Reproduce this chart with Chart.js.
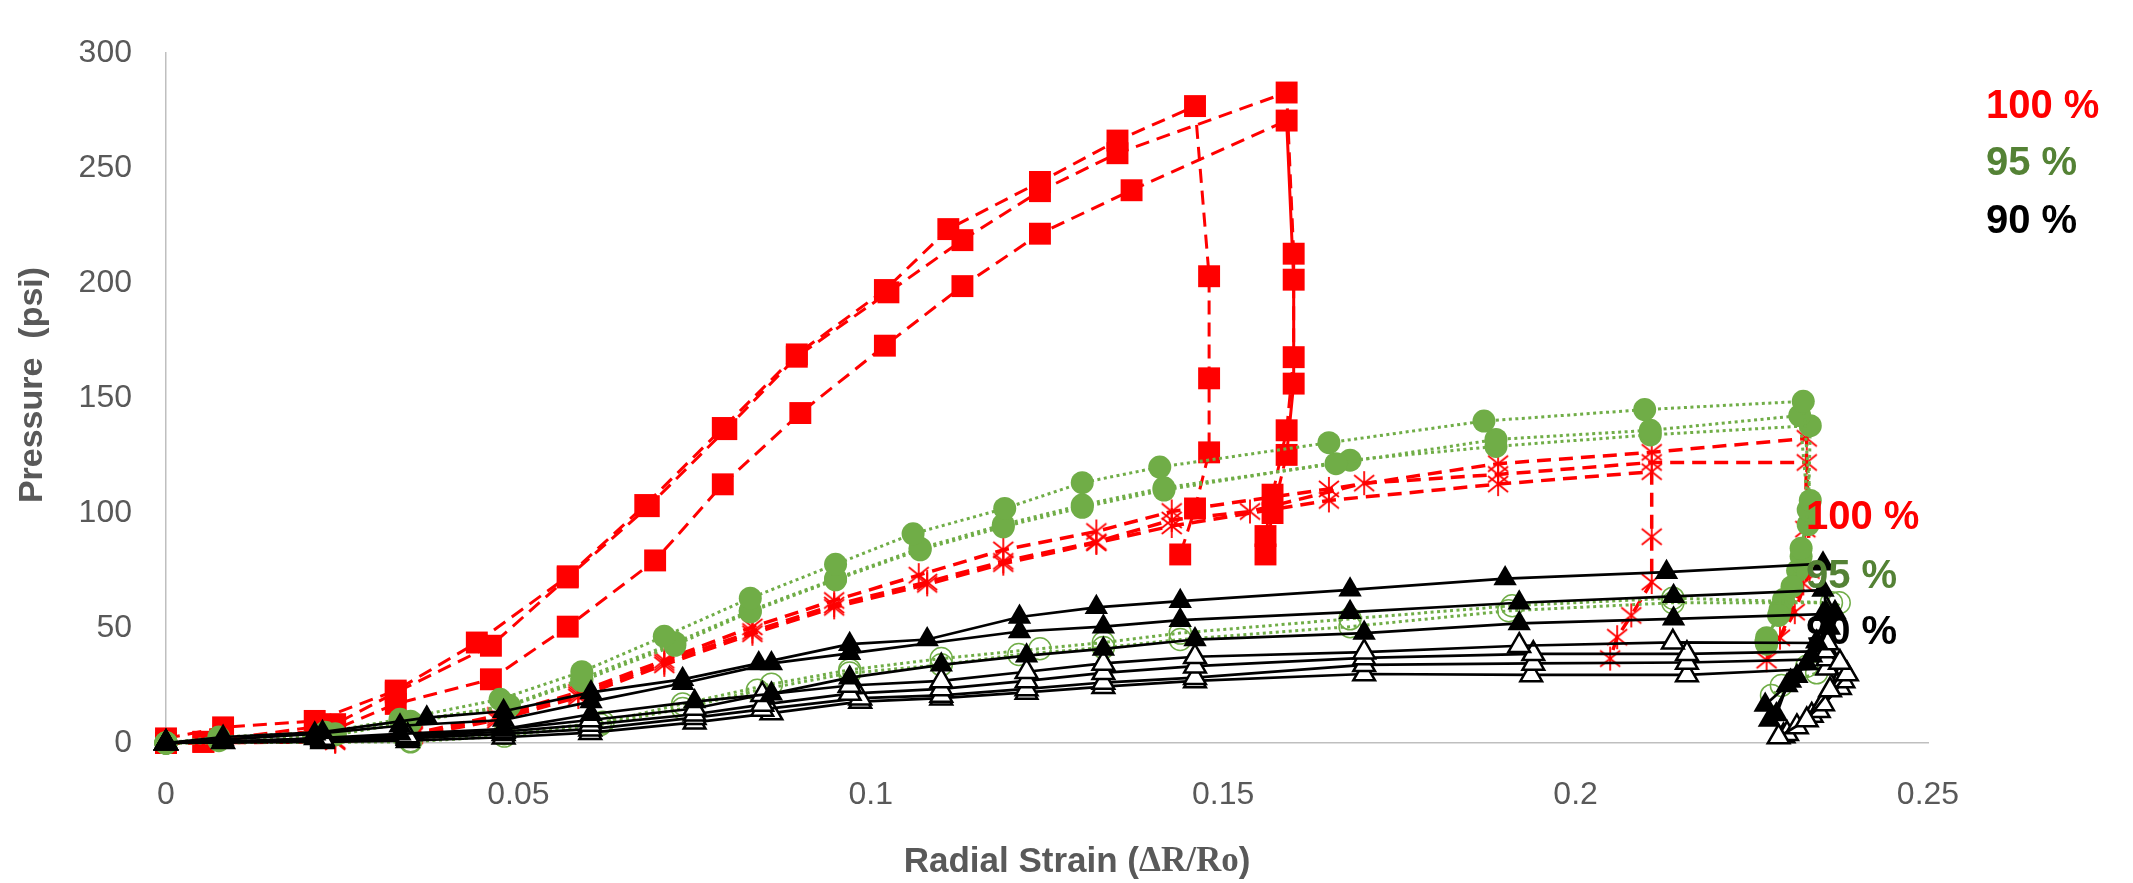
<!DOCTYPE html>
<html><head><meta charset="utf-8">
<script src="https://cdn.jsdelivr.net/npm/chart.js@4.4.1/dist/chart.umd.min.js"></script>
<style>html,body{margin:0;padding:0;background:#fff;}canvas{display:block;}</style>
</head><body>
<canvas id="c" width="2133" height="883"></canvas>
<script>
// ---------- axis ticks ----------
const xTicks = [0, 0.05, 0.1, 0.15, 0.2, 0.25];
const yTicks = [0, 50, 100, 150, 200, 250, 300];
const xTitle = ['Radial Strain (', 'ΔR/Ro', ')'];
const yTitle = 'Pressure  (psi)';
const labelTexts = ['100 %', '95 %', '90 %'];

// ---------- 100 % : red squares ----------
const sqA_x = [0, 0.0081, 0.0211, 0.0326, 0.0441, 0.057, 0.068, 0.079, 0.0895, 0.102, 0.111, 0.124, 0.135, 0.146, 0.148, 0.148, 0.148, 0.146, 0.1439];
const sqA_y = [2, 6.8, 9.6, 22.8, 43.7, 72.5, 103.5, 137, 169, 197, 223.5, 244, 262, 277, 203, 158.6, 126.4, 102, 82];
const sqB_x = [0, 0.0053, 0.024, 0.0326, 0.0461, 0.057, 0.0685, 0.0795, 0.0895, 0.1025, 0.113, 0.124, 0.135, 0.159, 0.160, 0.160, 0.159, 0.157, 0.156];
const sqB_y = [0, 0.5, 8.2, 22, 42.3, 72, 103, 136.5, 168, 196, 218.7, 240, 256.5, 282.9, 212.8, 167.8, 136, 108, 90];
const sqC_x = [0, 0.0053, 0.024, 0.0326, 0.0461, 0.057, 0.0694, 0.079, 0.090, 0.102, 0.113, 0.124, 0.137, 0.159, 0.160, 0.160, 0.159, 0.157, 0.156];
const sqC_y = [0, 0.5, 6, 17, 27.7, 50.6, 79.4, 112.5, 143.5, 172.8, 198.7, 221.5, 240.4, 270.7, 201.5, 156.3, 125.3, 100, 82];

// ---------- 100 % : red stars ----------
const stA_x = [0, 0.024, 0.035, 0.047, 0.0585, 0.0707, 0.0832, 0.0948, 0.1068, 0.1188, 0.132, 0.1427, 0.165, 0.189, 0.2108, 0.2328, 0.2326, 0.2323, 0.229];
const stA_y = [0, 1, 4, 12, 22, 36, 50.5, 62, 73, 84, 92, 100.7, 110.5, 121.5, 126.4, 132.5, 93, 69.4, 45.8];
const stB_x = [0, 0.024, 0.035, 0.047, 0.0585, 0.0707, 0.0832, 0.0948, 0.108, 0.1188, 0.132, 0.1427, 0.1538, 0.170, 0.189, 0.2108, 0.2328, 0.2332, 0.2311, 0.2271];
const stB_y = [0, 1, 3.5, 11, 21, 35, 48.5, 60, 70, 79, 87.5, 97, 100.7, 113, 116.8, 122, 122, 75, 56.9, 36];
const stC_x = [0, 0.024, 0.035, 0.047, 0.0585, 0.0707, 0.0832, 0.0948, 0.108, 0.1188, 0.132, 0.1427, 0.165, 0.189, 0.2108, 0.2108, 0.2108, 0.2079, 0.2059, 0.2049];
const stC_y = [0, 0.5, 3, 10, 20, 34, 47.5, 59, 69, 78, 87, 94.4, 105.5, 112.6, 118, 89.7, 70, 55.5, 46, 36.7];

// ---------- 95 % : green filled circles ----------
const gfA_x = [0, 0.0075, 0.0226, 0.0332, 0.0474, 0.059, 0.0707, 0.0829, 0.095, 0.106, 0.119, 0.130, 0.141, 0.165, 0.187, 0.2098, 0.2323, 0.2333, 0.232, 0.2307, 0.2288, 0.2271];
const gfA_y = [0, 2.6, 4.7, 10.3, 19, 31, 46.4, 63, 77.7, 91, 102, 113.2, 120, 130.6, 140, 145, 148.6, 105.5, 84.7, 68, 55.5, 45.8];
const gfB_x = [0, 0.0075, 0.024, 0.0347, 0.0487, 0.059, 0.0722, 0.0829, 0.095, 0.107, 0.1188, 0.130, 0.1416, 0.166, 0.1887, 0.2106, 0.2318, 0.233, 0.232, 0.2295, 0.2271];
const gfB_y = [0, 1.5, 4, 9.5, 16.4, 28, 43.6, 57.6, 71.5, 84.7, 95, 103.5, 111, 121.5, 132, 136, 142.4, 101.4, 81.2, 62.4, 43];
const gfC_x = [0, 0.0075, 0.024, 0.0347, 0.0487, 0.059, 0.0722, 0.0829, 0.095, 0.107, 0.1188, 0.130, 0.1416, 0.168, 0.1887, 0.2106, 0.2333, 0.233, 0.2315, 0.229, 0.227];
const gfC_y = [0, 1, 3.5, 9, 16, 27, 42.5, 57, 71, 84, 94, 102.5, 110, 123, 129, 134, 138, 95, 75, 58, 44];

// ---------- 95 % : green open circles ----------
const goA_x = [0, 0.0347, 0.048, 0.062, 0.0733, 0.0859, 0.097, 0.110, 0.124, 0.133, 0.1439, 0.168, 0.191, 0.2138, 0.2363, 0.2342, 0.2292];
const goA_y = [0, 1, 4, 9, 17, 25.6, 31.8, 36.7, 41, 43.7, 47.8, 54, 59.7, 63, 61, 30.5, 25];
const goB_x = [0, 0.0347, 0.048, 0.0616, 0.0733, 0.0839, 0.097, 0.110, 0.121, 0.133, 0.1439, 0.168, 0.1905, 0.2138, 0.2374, 0.2328, 0.2278];
const goB_y = [0, 0.5, 3, 8, 15, 22.9, 30.4, 34, 38.5, 41.5, 45, 50.6, 57.5, 61, 61, 33.4, 20.7];

// ---------- 90 % : black filled triangles ----------
const tfA_x = [0, 0.0081, 0.0222, 0.037, 0.0479, 0.0603, 0.0733, 0.0841, 0.097, 0.108, 0.1211, 0.132, 0.1439, 0.168, 0.190, 0.2129, 0.2351, 0.2355, 0.2342, 0.2314, 0.2269];
const tfA_y = [0, 2.6, 4.7, 11, 13.8, 22, 27.7, 34.6, 43, 45, 54.8, 59, 61.7, 66.6, 71.5, 74.3, 78, 57, 44, 29, 16.5];
const tfB_x = [0, 0.0081, 0.0211, 0.0332, 0.0479, 0.0603, 0.0733, 0.0859, 0.097, 0.1211, 0.133, 0.1439, 0.168, 0.192, 0.2139, 0.2351, 0.2368, 0.2328, 0.230, 0.2285];
const tfB_y = [0, 1.5, 4, 7.5, 10, 18, 26, 34.6, 39, 48.5, 50.6, 53.4, 56.9, 61, 63.8, 66.5, 56.9, 34.6, 25, 12.4];
const tfC_x = [0, 0.0081, 0.0211, 0.0332, 0.0479, 0.0603, 0.075, 0.0859, 0.097, 0.11, 0.1221, 0.133, 0.146, 0.170, 0.192, 0.2139, 0.2351, 0.236, 0.2335, 0.2305, 0.2275];
const tfC_y = [0, 0.5, 2, 4, 6, 12.5, 18, 21.4, 28.4, 34, 38, 40.9, 45, 47.8, 52, 54, 56, 50, 38, 27, 10];

// ---------- 90 % : black open triangles ----------
const toA_x = [0, 0.0081, 0.0222, 0.0343, 0.0479, 0.0602, 0.075, 0.0846, 0.097, 0.11, 0.1221, 0.133, 0.146, 0.170, 0.192, 0.2138, 0.2357, 0.2375, 0.2361, 0.2328, 0.2288];
const toA_y = [0, 0.5, 2, 3, 6, 10, 15, 21, 25, 27, 31, 34.6, 37.5, 39.5, 42.3, 43.8, 43.5, 35, 23, 10, 2.6];
const toB_x = [0, 0.0222, 0.0343, 0.0479, 0.0602, 0.075, 0.0846, 0.097, 0.11, 0.1221, 0.133, 0.146, 0.170, 0.194, 0.2158, 0.2357, 0.2385, 0.2351, 0.2314];
const toB_y = [0, 1.5, 2.5, 5, 8, 12.5, 16.7, 21.5, 23.5, 27, 30.5, 33.4, 37, 38.8, 38.8, 40, 30, 17, 7];
const toC_x = [0, 0.0222, 0.0343, 0.0479, 0.0602, 0.075, 0.0846, 0.0985, 0.11, 0.1221, 0.133, 0.146, 0.170, 0.194, 0.2158, 0.2357, 0.238, 0.2345, 0.2300];
const toC_y = [0, 1, 2, 4, 6, 11, 14.6, 19.5, 20.7, 23.5, 26.3, 28.4, 34, 34.6, 35, 36.5, 27, 14, 4];
const toD_x = [0, 0.0222, 0.0343, 0.0479, 0.0602, 0.075, 0.0859, 0.0985, 0.11, 0.1221, 0.133, 0.146, 0.170, 0.1937, 0.2158, 0.2357, 0.2375, 0.2335, 0.2295];
const toD_y = [0, 0.5, 1, 2.5, 4.5, 9, 13, 18, 19.5, 22, 24.5, 27, 30, 29.6, 29.6, 32.5, 24, 12, 3];

// ---------- build ----------
const pts = (xs, ys) => xs.map((x, i) => ({ x: x, y: ys[i] }));
const RED = '#FF0000', GREEN = '#70AD47', GREEN_TXT = '#548235', GRAY = '#595959';

function starImage() {
  const c = document.createElement('canvas');
  c.width = 24; c.height = 26;
  const g = c.getContext('2d');
  g.strokeStyle = RED; g.lineWidth = 1.8;
  g.beginPath();
  g.moveTo(12, 1); g.lineTo(12, 25);
  g.moveTo(2, 5); g.lineTo(22, 21);
  g.moveTo(22, 5); g.lineTo(2, 21);
  g.stroke();
  return c;
}
const STAR = starImage();

const dashRed = [14, 8];
const dotGreen = [3, 3.5];

function squares(xs, ys, solidDrop) {
  const d = {
    data: pts(xs, ys), showLine: true, borderColor: RED, borderWidth: 3, borderDash: dashRed,
    pointStyle: 'rect', pointRadius: 15.5, pointBackgroundColor: RED, pointBorderColor: RED,
    pointBorderWidth: 0, order: 6, clip: false
  };
  if (solidDrop) {
    d.segment = { borderDash: ctx => Math.abs(ctx.p1.parsed.x - ctx.p0.parsed.x) < 0.002 ? [] : dashRed };
  }
  return d;
}
function stars(xs, ys) {
  return { data: pts(xs, ys), showLine: true, borderColor: RED, borderWidth: 3.5, borderDash: dashRed,
    pointStyle: STAR, pointRadius: 12, order: 5, clip: false };
}
function gFilled(xs, ys) {
  return { data: pts(xs, ys), showLine: true, borderColor: GREEN, borderWidth: 3, borderDash: dotGreen,
    pointStyle: 'circle', pointRadius: 11.5, pointBackgroundColor: GREEN, pointBorderColor: GREEN,
    pointBorderWidth: 0, order: 4, clip: false };
}
function gOpen(xs, ys) {
  return { data: pts(xs, ys), showLine: true, borderColor: GREEN, borderWidth: 3, borderDash: dotGreen,
    pointStyle: 'circle', pointRadius: 11, pointBackgroundColor: 'rgba(0,0,0,0)', pointBorderColor: GREEN,
    pointBorderWidth: 1.5, order: 3, clip: false };
}
function tFilled(xs, ys) {
  return { data: pts(xs, ys), showLine: true, borderColor: '#000', borderWidth: 2.7,
    pointStyle: 'triangle', pointRadius: 13.5, pointBackgroundColor: '#000', pointBorderColor: '#000',
    pointBorderWidth: 0, order: 1, clip: false };
}
function tOpen(xs, ys) {
  return { data: pts(xs, ys), showLine: true, borderColor: '#000', borderWidth: 2.7,
    pointStyle: 'triangle', pointRadius: 12.5, pointBackgroundColor: '#fff', pointBorderColor: '#000',
    pointBorderWidth: 2.5, order: 2, clip: false };
}

const datasets = [
  squares(sqA_x, sqA_y, false), squares(sqB_x, sqB_y, false), squares(sqC_x, sqC_y, true),
  stars(stA_x, stA_y), stars(stB_x, stB_y), stars(stC_x, stC_y),
  gFilled(gfA_x, gfA_y), gFilled(gfB_x, gfB_y), gFilled(gfC_x, gfC_y),
  gOpen(goA_x, goA_y), gOpen(goB_x, goB_y),
  tOpen(toA_x, toA_y), tOpen(toB_x, toB_y), tOpen(toC_x, toC_y), tOpen(toD_x, toD_y),
  tFilled(tfA_x, tfA_y), tFilled(tfB_x, tfB_y), tFilled(tfC_x, tfC_y)
];

const SANS = '"Liberation Sans", Arial, sans-serif';
const SERIF = '"Liberation Serif", "Times New Roman", serif';

const textPlugin = {
  id: 'texts',
  afterDatasetsDraw(chart) {
    const ctx = chart.ctx;
    // y title
    ctx.save();
    ctx.translate(33, 385);
    ctx.rotate(-Math.PI / 2);
    ctx.font = 'bold 34px ' + SANS;
    ctx.fillStyle = GRAY; ctx.textAlign = 'center'; ctx.textBaseline = 'middle';
    ctx.fillText(yTitle, 0, 0);
    ctx.restore();
    // x title (mixed fonts)
    ctx.save();
    const fonts = ['bold 35px ' + SANS, 'bold 35px ' + SERIF, 'bold 35px ' + SANS];
    let total = 0;
    const widths = xTitle.map((t, i) => { ctx.font = fonts[i]; const w = ctx.measureText(t).width; total += w; return w; });
    let x = 1077 - total / 2;
    ctx.fillStyle = GRAY; ctx.textAlign = 'left'; ctx.textBaseline = 'middle';
    xTitle.forEach((t, i) => { ctx.font = fonts[i]; ctx.fillText(t, x, 862); x += widths[i]; });
    ctx.restore();
    // percentage labels
    ctx.save();
    ctx.font = 'bold 40px ' + SANS;
    ctx.textAlign = 'left'; ctx.textBaseline = 'middle';
    const cols = [RED, GREEN_TXT, '#000'];
    const topY = [107, 164, 222];
    const inY = [518, 577, 633];
    labelTexts.forEach((t, i) => {
      ctx.fillStyle = cols[i];
      ctx.fillText(t, 1986, topY[i]);
      ctx.fillText(t, 1806, inY[i]);
    });
    ctx.restore();
  }
};

new Chart(document.getElementById('c'), {
  type: 'scatter',
  data: { datasets: datasets },
  options: {
    responsive: false, animation: false, devicePixelRatio: 1,
    layout: { padding: { left: 0, top: 24, right: 205, bottom: 0 } },
    plugins: { legend: { display: false }, tooltip: { enabled: false } },
    scales: {
      x: {
        type: 'linear', min: 0, max: 0.25,
        afterFit: s => { s.height = 140; },
        afterBuildTicks: s => { s.ticks = xTicks.map(v => ({ value: v })); },
        grid: { display: false, drawTicks: false },
        border: { display: true, color: '#BFBFBF', width: 1.5 },
        ticks: { padding: 33, color: GRAY, font: { family: SANS, size: 32 }, callback: v => String(v), maxRotation: 0, autoSkip: false }
      },
      y: {
        type: 'linear', min: 0, max: 300,
        afterFit: s => { s.width = 166; },
        afterBuildTicks: s => { s.ticks = yTicks.map(v => ({ value: v })); },
        grid: { display: false, drawTicks: false },
        border: { display: true, color: '#BFBFBF', width: 1.5 },
        ticks: { padding: 34, color: GRAY, font: { family: SANS, size: 32 }, callback: v => String(v) }
      }
    }
  },
  plugins: [textPlugin]
});
</script>
</body></html>
